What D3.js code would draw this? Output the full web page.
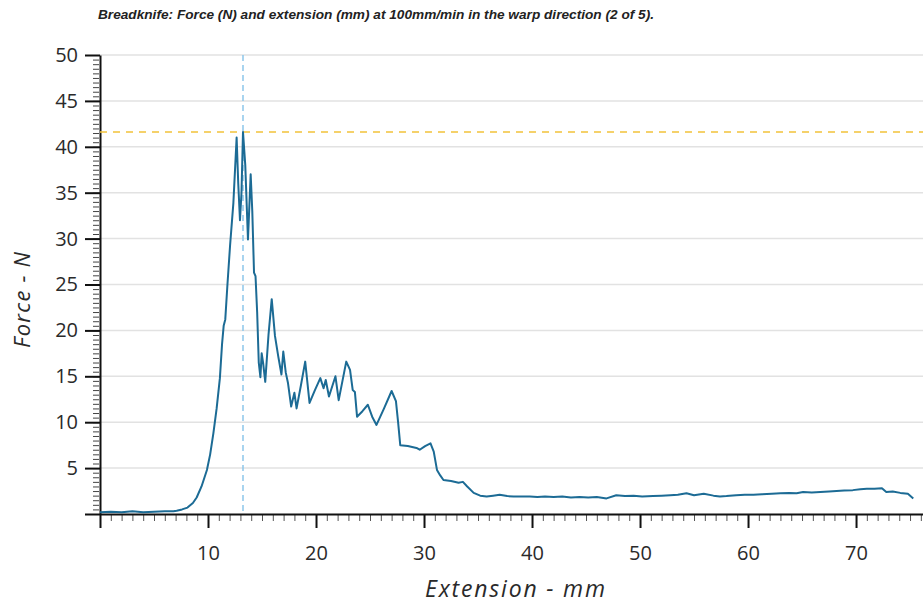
<!DOCTYPE html>
<html lang="en">
<head>
    <meta charset="UTF-8">
    <script src="https://d3js.org/d3.v7.min.js"></script>
    <title>Breadknife</title>
    <style>
        body { margin: 0; background: #fff; }
    </style>
</head>
<body>
    <div id="container"></div>
    <script>
        const width = 923, height = 605;

        // extension (mm) and force (N)
        const extension = [0, 1, 2, 3, 4, 5, 6, 6.8, 7.1, 7.6, 8.1, 8.6, 8.95, 9.4, 9.9, 10.2, 10.5, 10.8, 11.1, 11.3,
            11.45, 11.6, 11.8, 12.04, 12.35, 12.65, 12.8, 12.96, 13.1, 13.24, 13.45, 13.7, 13.95, 14.1, 14.26, 14.4, 14.55, 14.7, 14.85, 14.97,
            15.1, 15.3, 15.6, 15.9, 16.2, 16.5, 16.8, 16.97, 17.2, 17.4, 17.7, 18.0, 18.2, 18.6, 19.0, 19.4, 19.9, 20.4, 20.7, 20.9,
            21.2, 21.8, 22.1, 22.8, 23.15, 23.4, 23.6, 23.8, 24.3, 24.8, 25.2, 25.6, 26.3, 27.0, 27.4, 27.6, 27.8, 28.5, 29.3, 29.6,
            30.1, 30.6, 30.9, 31.2, 31.5, 31.8, 32.5, 33.2, 33.6, 34.0, 34.6, 35.2, 35.8, 36.4, 37.0, 37.7, 38.3, 38.9, 39.8, 40.5,
            41.2, 42.0, 42.8, 43.6, 44.4, 45.2, 46.0, 46.9, 47.8, 48.6, 49.4, 50.2, 51.2, 52.0, 52.8, 53.5, 54.3, 55.0, 55.9, 56.8,
            57.4, 58.0, 58.9, 59.7, 60.5, 61.3, 62.2, 63.0, 63.8, 64.5, 65.1, 65.9, 66.7, 67.5, 68.2, 68.9, 69.7, 70.4, 71.0, 71.7,
            72.4, 72.8, 73.4, 74.1, 74.8, 75.3];
        const force = [0.2, 0.25, 0.2, 0.3, 0.2, 0.25, 0.3, 0.3, 0.35, 0.5, 0.7, 1.2, 1.8, 3.0, 4.8, 6.5, 8.8, 11.5, 14.8, 18.5,
            20.5, 21.2, 25, 29.2, 33.9, 41.0, 36, 32.0, 35, 41.6, 38, 29.9, 37.0, 33, 26.3, 25.9, 22, 16.5, 14.9, 17.5,
            16.5, 14.4, 19.5, 23.4, 19.4, 17.2, 15.2, 17.7, 15.4, 14.3, 11.7, 13.2, 11.5, 14, 16.6, 12.1, 13.5, 14.8, 13.7, 14.6,
            12.8, 15.0, 12.4, 16.6, 15.7, 13.5, 13.3, 10.6, 11.2, 11.9, 10.6, 9.7, 11.5, 13.4, 12.3, 10, 7.5, 7.4, 7.2, 7.0,
            7.4, 7.7, 6.8, 4.8, 4.2, 3.7, 3.6, 3.4, 3.5, 3.0, 2.3, 2.0, 1.9, 2.0, 2.1, 1.95, 1.9, 1.9, 1.9, 1.85,
            1.9, 1.85, 1.9, 1.8, 1.85, 1.8, 1.85, 1.7, 2.05, 1.95, 2.0, 1.9, 1.95, 2.0, 2.05, 2.1, 2.26, 2.05, 2.2, 2.0,
            1.9, 1.95, 2.05, 2.1, 2.1, 2.15, 2.2, 2.26, 2.3, 2.25, 2.4, 2.35, 2.4, 2.45, 2.5, 2.55, 2.6, 2.7, 2.75, 2.75,
            2.8, 2.4, 2.45, 2.3, 2.2, 1.7];

        const xMajor = [0, 10, 20, 30, 40, 50, 60, 70];
        const yMajor = [0, 5, 10, 15, 20, 25, 30, 35, 40, 45, 50];
        const title = "Breadknife: Force (N) and extension (mm) at 100mm/min in the warp direction (2 of 5).";

        const data = extension.map((e, i) => ({ x: e, y: force[i] }));

        const svg = d3.select("#container")
            .append("svg")
            .attr("width", width)
            .attr("height", height)
            .style("font-family", "'Open Sans', sans-serif");

        const x = d3.scaleLinear().domain([0, 76.2]).range([100, 923]);
        const y = d3.scaleLinear().domain([0, 50]).range([514, 55]);

        // title
        svg.append("text")
            .attr("x", 98)
            .attr("y", 19)
            .attr("font-family", "'Liberation Sans', Arial, sans-serif")
            .attr("font-size", 12)
            .attr("font-weight", "bold")
            .attr("font-style", "italic")
            .attr("fill", "#222")
            .attr("textLength", 556)
            .attr("lengthAdjust", "spacingAndGlyphs")
            .text(title);

        // grid
        svg.append("g")
            .selectAll("line")
            .data(yMajor.filter(d => d > 0))
            .enter()
            .append("line")
            .attr("x1", x(0))
            .attr("x2", width)
            .attr("y1", d => y(d))
            .attr("y2", d => y(d))
            .attr("stroke", "#e2e2e2")
            .attr("stroke-width", 1.5);

        // minor ticks
        svg.append("g")
            .attr("transform", `translate(${x(0)},0)`)
            .call(d3.axisLeft(y).tickValues(d3.range(0, 50.01, 0.5)).tickSize(6).tickFormat(""))
            .call(g => g.select(".domain").remove())
            .call(g => g.selectAll("line").attr("stroke", "#444").attr("transform", "translate(-1,0)"));
        svg.append("g")
            .attr("transform", `translate(0,${y(0)})`)
            .call(d3.axisBottom(x).tickValues(d3.range(0, 77, 1)).tickSize(7).tickFormat(""))
            .call(g => g.select(".domain").remove())
            .call(g => g.selectAll("line").attr("stroke", "#555"));

        // major axes
        svg.append("g")
            .attr("transform", `translate(${x(0)},0)`)
            .call(d3.axisLeft(y).tickValues(yMajor).tickSize(15).tickSizeOuter(0).tickPadding(7)
                .tickFormat(d => d === 0 ? "" : d))
            .call(g => g.select(".domain").attr("stroke", "#111").attr("stroke-width", 2))
            .call(g => g.selectAll("line").attr("stroke", "#111").attr("stroke-width", 2))
            .call(g => g.selectAll("text").attr("font-size", 20).attr("fill", "#2a2a2a")
                .attr("font-family", "'Open Sans', sans-serif"));
        svg.append("g")
            .attr("transform", `translate(0,${y(0)})`)
            .call(d3.axisBottom(x).tickValues(xMajor).tickSize(14).tickSizeOuter(0).tickPadding(18)
                .tickFormat(d => d === 0 ? "" : d))
            .call(g => g.select(".domain").attr("stroke", "#111").attr("stroke-width", 2))
            .call(g => g.selectAll("line").attr("stroke", "#111").attr("stroke-width", 2))
            .call(g => g.selectAll("text").attr("font-size", 20).attr("fill", "#2a2a2a")
                .attr("font-family", "'Open Sans', sans-serif"));

        // axis titles
        svg.append("text")
            .attr("transform", "translate(30,300) rotate(-90)")
            .attr("text-anchor", "middle")
            .attr("font-size", 22)
            .attr("font-style", "italic")
            .attr("fill", "#2a2a2a")
            .attr("textLength", 96)
            .text("Force - N");
        svg.append("text")
            .attr("x", 515)
            .attr("y", 597)
            .attr("text-anchor", "middle")
            .attr("font-size", 23)
            .attr("font-style", "italic")
            .attr("fill", "#2a2a2a")
            .attr("textLength", 180)
            .text("Extension - mm");

        // max markers
        const peak = data.reduce((a, b) => b.y > a.y ? b : a);
        svg.append("line")
            .attr("x1", x(0))
            .attr("x2", width)
            .attr("y1", y(peak.y))
            .attr("y2", y(peak.y))
            .attr("stroke", "#f2c23a")
            .attr("stroke-width", 1.5)
            .attr("stroke-dasharray", "7 6");
        svg.append("line")
            .attr("x1", x(peak.x))
            .attr("x2", x(peak.x))
            .attr("y1", y(50))
            .attr("y2", y(0))
            .attr("stroke", "#8cc6ea")
            .attr("stroke-width", 1.5)
            .attr("stroke-dasharray", "6 4");

        // curve
        svg.append("path")
            .datum(data)
            .attr("fill", "none")
            .attr("stroke", "#1c6b95")
            .attr("stroke-width", 2)
            .attr("stroke-linejoin", "round")
            .attr("d", d3.line().x(d => x(d.x)).y(d => y(d.y)));
    </script>
</body>
</html>
